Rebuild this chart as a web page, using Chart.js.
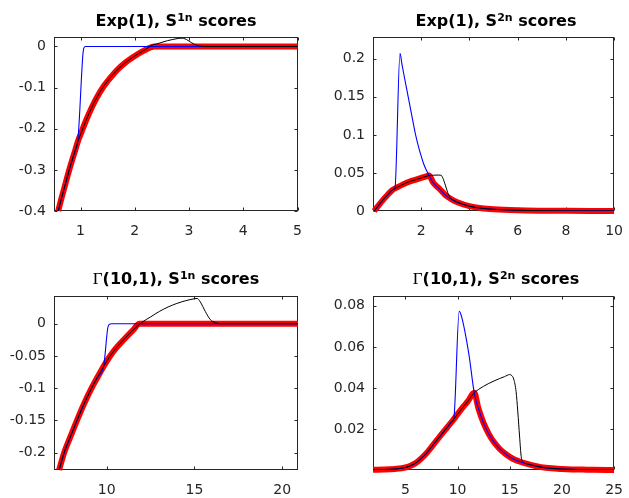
<!DOCTYPE html>
<html><head><meta charset="utf-8">
<script src="https://cdn.jsdelivr.net/npm/chart.js@4.4.1/dist/chart.umd.min.js"></script>
<style>
html,body{margin:0;padding:0;background:#fff;}
body{width:629px;height:498px;position:relative;overflow:hidden;}
canvas{position:absolute;}
.ttl{position:absolute;font-family:"DejaVu Sans";font-weight:bold;font-size:16px;color:#000;white-space:nowrap;line-height:16px;transform:translateX(-50%);}
.ttl .sp{font-size:11px;position:relative;top:-5px;}
.ttl .g{font-family:"Liberation Serif";font-weight:normal;font-size:17px;}
</style></head><body>
<script>
// ---------- Panel 1: Exp(1), S1n scores ----------
const tlRedX = [0.587,0.65,0.7,0.787,0.85,0.9,0.95,1.0,1.1,1.2,1.3,1.42,1.5,1.6,1.7,1.82,1.9,2.0,2.1,2.2,2.3,2.36,3,4,5];
const tlRedY = [-0.4,-0.368,-0.344,-0.302,-0.274,-0.253,-0.231,-0.214,-0.180,-0.150,-0.124,-0.098,-0.084,-0.068,-0.054,-0.040,-0.032,-0.023,-0.015,-0.008,-0.002,0,0,0,0];
const tlBlueX = [0.587,0.65,0.7,0.787,0.85,0.9,0.95,1.045,1.06,1.09,2,3,4,5];
const tlBlueY = [-0.4,-0.368,-0.344,-0.302,-0.274,-0.253,-0.229,-0.016,-0.004,0,0,0,0,0];
const tlBlackX = [0.587,0.65,0.7,0.787,0.85,0.9,0.95,1.0,1.1,1.2,1.3,1.42,1.5,1.6,1.7,1.82,1.9,2.0,2.1,2.2,2.26,2.3,2.4,2.5,2.6,2.7,2.8,2.85,2.9,2.95,3.0,3.1,3.2,3.3,4,5];
const tlBlackY = [-0.4,-0.368,-0.344,-0.302,-0.274,-0.253,-0.231,-0.214,-0.180,-0.150,-0.124,-0.098,-0.084,-0.068,-0.054,-0.040,-0.032,-0.023,-0.015,-0.007,-0.002,0.002,0.006,0.010,0.014,0.017,0.0195,0.020,0.0195,0.017,0.013,0.005,0.001,0,0,0];
const tlXTicks = [1,2,3,4,5];
const tlYTicks = [-0.4,-0.3,-0.2,-0.1,0];

// ---------- Panel 2: Exp(1), S2n scores ----------
const trRedX = [0.05,0.2,0.4,0.6,0.8,1.0,1.25,1.5,1.75,2.0,2.2,2.33,2.5,2.75,3.0,3.25,3.5,4.0,4.5,5,6,7,8,9,10];
const trRedY = [0,0.006,0.014,0.021,0.0275,0.031,0.035,0.0385,0.041,0.0435,0.0455,0.0465,0.037,0.0295,0.021,0.0155,0.0115,0.0063,0.0036,0.0022,0.0009,0.0004,0.0002,0.0001,0.0001];
const trBlueX = [0.05,0.2,0.4,0.6,0.8,0.91,1.12,1.2,1.3,1.46,1.6,1.76,1.9,2.0,2.1,2.2,2.33,2.5,2.75,3.0,3.25,3.5,4.0,4.5,5,6,7,8,9,10];
const trBlueY = [0,0.006,0.014,0.021,0.0275,0.0295,0.207,0.193,0.176,0.150,0.127,0.101,0.083,0.072,0.062,0.0545,0.0465,0.037,0.0295,0.021,0.0155,0.0115,0.0063,0.0036,0.0022,0.0009,0.0004,0.0002,0.0001,0.0001];
const trBlackX = [0.05,0.2,0.4,0.6,0.8,1.0,1.25,1.5,1.75,2.0,2.2,2.33,2.5,2.7,2.82,2.9,3.0,3.1,3.2,3.35,3.5,4.0,4.5,5,6,7,8,9,10];
const trBlackY = [0,0.006,0.014,0.021,0.0275,0.031,0.035,0.0385,0.041,0.0435,0.0455,0.0465,0.047,0.0472,0.047,0.043,0.034,0.024,0.0175,0.0139,0.0115,0.0063,0.0036,0.0022,0.0009,0.0004,0.0002,0.0001,0.0001];
const trXTicks = [2,4,6,8,10];
const trYTicks = [0,0.05,0.1,0.15,0.2];

// ---------- Panel 3: Gamma(10,1), S1n scores ----------
const blRedX = [7.29,7.58,8.0,8.31,8.7,9.14,9.5,9.83,10.15,10.5,11.0,11.5,11.87,13,15,17,19,20.9];
const blRedY = [-0.227,-0.2,-0.171,-0.150,-0.125,-0.100,-0.082,-0.066,-0.052,-0.039,-0.024,-0.010,0,0,0,0,0,0];
const blBlueX = [7.29,7.58,8.0,8.31,8.7,9.14,9.5,9.83,10.06,10.15,10.29,13,15,17,19,20.9];
const blBlueY = [-0.227,-0.2,-0.171,-0.150,-0.125,-0.100,-0.082,-0.066,-0.007,-0.001,0,0,0,0,0,0];
const blBlackX = [7.29,7.58,8.0,8.31,8.7,9.14,9.5,9.83,10.15,10.5,11.0,11.5,12.0,12.5,13.0,13.5,14.0,14.5,15.0,15.15,15.33,15.62,15.9,16.2,16.5,18,20.9];
const blBlackY = [-0.227,-0.2,-0.171,-0.150,-0.125,-0.100,-0.082,-0.066,-0.052,-0.039,-0.024,-0.010,0.002,0.0105,0.019,0.026,0.0315,0.0357,0.0388,0.0393,0.034,0.019,0.0065,0.0015,0,0,0];
const blXTicks = [10,15,20];
const blYTicks = [-0.2,-0.15,-0.1,-0.05,0];

// ---------- Panel 4: Gamma(10,1), S2n scores ----------
const brRedX = [1.9,3,4,5,5.5,6,6.5,7,7.5,8,8.5,9,9.5,10,10.5,11,11.6,12,12.5,13,13.5,14,14.5,15,15.5,16,16.5,17,18,19,20,21,22,23,25];
const brRedY = [0.0001,0.0002,0.0005,0.0012,0.0021,0.0034,0.0055,0.008,0.0112,0.0144,0.0176,0.0207,0.0238,0.0272,0.0305,0.0336,0.0376,0.030,0.0228,0.0175,0.0135,0.0105,0.0082,0.0064,0.005,0.004,0.0032,0.0025,0.0014,0.0008,0.0005,0.0003,0.0002,0.0001,0];
const brBlueX = [1.9,3,4,5,5.5,6,6.5,7,7.5,8,8.5,9,9.5,9.64,10.16,10.4,11.1,11.6,12,12.5,13,13.5,14,14.5,15,15.5,16,16.5,17,18,19,20,21,22,23,25];
const brBlueY = [0.0001,0.0002,0.0005,0.0012,0.0021,0.0034,0.0055,0.008,0.0112,0.0144,0.0176,0.0207,0.0238,0.0247,0.0773,0.0745,0.056,0.0376,0.030,0.0228,0.0175,0.0135,0.0105,0.0082,0.0064,0.005,0.004,0.0032,0.0025,0.0014,0.0008,0.0005,0.0003,0.0002,0.0001,0];
const brBlackX = [1.9,3,4,5,5.5,6,6.5,7,7.5,8,8.5,9,9.5,10,10.5,11,11.6,12.0,12.5,13,13.5,14,14.5,15.0,15.2,15.39,15.61,15.77,15.95,16.1,16.33,16.5,17,18,19,20,21,22,23,25];
const brBlackY = [0.0001,0.0002,0.0005,0.0012,0.0021,0.0034,0.0055,0.008,0.0112,0.0144,0.0176,0.0207,0.0238,0.0272,0.0305,0.0336,0.0376,0.0392,0.0408,0.0422,0.0434,0.0445,0.0455,0.0465,0.046,0.0442,0.0382,0.0287,0.016,0.0065,0.0036,0.0032,0.0025,0.0014,0.0008,0.0005,0.0003,0.0002,0.0001,0];
const brXTicks = [5,10,15,20,25];
const brYTicks = [0.02,0.04,0.06,0.08];

// ---------- titles ----------
const titleDist = ['Exp(1)', 'Exp(1)', '\u0393', '\u0393'];
const titleParam = ['', '', '(10,1)', '(10,1)'];
const titleSup = ['1n', '2n', '1n', '2n'];

// ---------- layout ----------
const panels = [
  {rect:[54,33,244,178], xr:[0.51,5], yr:[-0.4,0.022], xt:tlXTicks, yt:tlYTicks,
   red:[tlRedX,tlRedY], blue:[tlBlueX,tlBlueY], black:[tlBlackX,tlBlackY]},
  {rect:[373,33,246,178], xr:[0,10], yr:[0,0.228], xt:trXTicks, yt:trYTicks,
   red:[trRedX,trRedY], blue:[trBlueX,trBlueY], black:[trBlackX,trBlackY]},
  {rect:[54,292,244,178], xr:[7.0,20.9], yr:[-0.227,0.0424], xt:blXTicks, yt:blYTicks,
   red:[blRedX,blRedY], blue:[blBlueX,blBlueY], black:[blBlackX,blBlackY]},
  {rect:[373,292,246,178], xr:[1.9,25], yr:[0,0.0846], xt:brXTicks, yt:brYTicks,
   red:[brRedX,brRedY], blue:[brBlueX,brBlueY], black:[brBlackX,brBlackY]}
];
const titleBaselines = [26, 26, 284, 284];

const pts = (xs, ys) => xs.map((x, i) => ({x, y: ys[i]}));
const fmt = v => String(+(+v).toFixed(4));
const AX = '#262626';

const framePlugin = {
  id: 'frame',
  beforeDatasetsDraw(chart) {
    const {ctx, chartArea: a} = chart;
    const xs = chart.scales.x, ys = chart.scales.y;
    ctx.save();
    ctx.strokeStyle = AX; ctx.lineWidth = 1;
    const L = Math.round(a.left) + 0.5, R = Math.round(a.right) - 0.5;
    const T = Math.round(a.top) + 0.5, B = Math.round(a.bottom) - 0.5;
    ctx.strokeRect(L, T, R - L, B - T);
    ctx.beginPath();
    xs.ticks.forEach(t => {
      const p = Math.round(xs.getPixelForValue(t.value)) + 0.5;
      ctx.moveTo(p, B); ctx.lineTo(p, B - 3);
      ctx.moveTo(p, T); ctx.lineTo(p, T + 3);
    });
    ys.ticks.forEach(t => {
      const p = Math.round(ys.getPixelForValue(t.value)) + 0.5;
      ctx.moveTo(L, p); ctx.lineTo(L + 3, p);
      ctx.moveTo(R, p); ctx.lineTo(R - 3, p);
    });
    ctx.stroke();
    ctx.restore();
  }
};

const padL = 60, padT = 12, padR = 16, padB = 30;
panels.forEach((p, i) => {
  const [L, T, W, H] = p.rect;
  const c = document.createElement('canvas');
  c.width = W + padL + padR; c.height = H + padT + padB;
  c.style.left = (L - padL) + 'px'; c.style.top = (T - padT) + 'px';
  c.style.width = c.width + 'px'; c.style.height = c.height + 'px';
  document.body.appendChild(c);
  const line = {showLine: true, pointRadius: 0, fill: false, cubicInterpolationMode: 'monotone', borderCapStyle: 'butt', borderJoinStyle: 'round'};
  new Chart(c, {
    type: 'scatter',
    data: {datasets: [
      Object.assign({data: pts(p.black[0], p.black[1]), borderColor: '#000000', borderWidth: 1}, line),
      Object.assign({data: pts(p.blue[0], p.blue[1]), borderColor: '#0000ff', borderWidth: 1.1}, line),
      Object.assign({data: pts(p.red[0], p.red[1]), borderColor: '#ff0000', borderWidth: 6, clip: 3}, line)
    ]},
    options: {
      responsive: false, animation: false, devicePixelRatio: 1,
      layout: {padding: {left: 0, top: padT, right: padR, bottom: 0}},
      plugins: {legend: {display: false}, tooltip: {enabled: false}, title: {display: false}},
      scales: {
        x: {type: 'linear', position: 'bottom', min: p.xr[0], max: p.xr[1],
            afterFit(s) { s.height = padB; },
            afterBuildTicks(s) { s.ticks = p.xt.map(v => ({value: v})); },
            grid: {display: false, drawTicks: false}, border: {display: false},
            ticks: {autoSkip: false, maxRotation: 0, padding: 12, color: AX,
                    font: {family: 'DejaVu Sans', size: 14}, callback: v => fmt(v)}},
        y: {type: 'linear', position: 'left', min: p.yr[0], max: p.yr[1],
            afterFit(s) { s.width = padL; },
            afterBuildTicks(s) { s.ticks = p.yt.map(v => ({value: v})); },
            grid: {display: false, drawTicks: false}, border: {display: false},
            ticks: {autoSkip: false, padding: 8, color: AX,
                    font: {family: 'DejaVu Sans', size: 14}, callback: v => fmt(v)}}
      }
    },
    plugins: [framePlugin]
  });

  const t = document.createElement('div');
  t.className = 'ttl';
  const dist = titleDist[i] === '\u0393' ? '<span class="g">\u0393</span>' : titleDist[i];
  t.innerHTML = dist + titleParam[i] + ', S<span class="sp">' + titleSup[i] + '</span> scores';
  t.style.left = (L + W / 2) + 'px';
  t.style.top = (titleBaselines[i] - 13) + 'px';
  document.body.appendChild(t);
});
</script>
</body></html>
